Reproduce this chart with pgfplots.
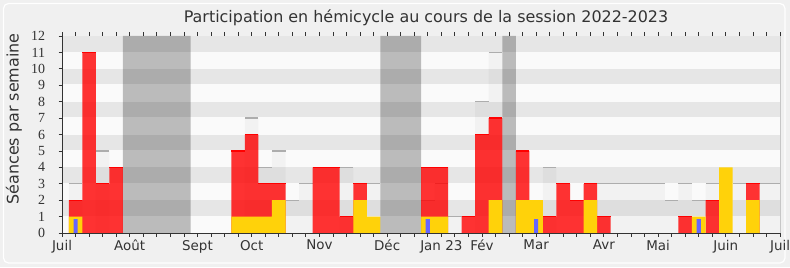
\documentclass[border=0pt]{standalone}
\usepackage{fontspec}
\setmainfont{DejaVu Sans}
\newfontfamily\serifnum{Liberation Serif}
\usepackage{pgfplots}
\usepackage{pgfplotstable}
\pgfplotsset{compat=1.18}
\definecolor{pagebg}{HTML}{F0F0F0}
\definecolor{stripeA}{HTML}{E6E6E6}
\definecolor{stripeB}{HTML}{FAFAFA}
\definecolor{barred}{HTML}{FF0000}
\definecolor{baryel}{HTML}{FFD20A}
\definecolor{barblue}{HTML}{6666FF}
\definecolor{txt}{HTML}{333333}

\pgfplotstableread{
x y
5 12
6 12
7 12
8 12
9 12
24 12
25 12
26 12
33 12
}\vactab

\pgfplotstableread{
x y
1 2
2 11
3 3
4 4
13 5
14 6
15 3
16 3
19 4
20 4
21 1
22 3
27 4
28 4
30 1
31 6
32 7
34 5
36 1
37 3
38 2
39 3
40 1
46 1
48 2
51 3
}\redtab

\pgfplotstableread{
x y
1 1
13 1
14 1
15 1
16 2
22 2
23 1
27 1
28 1
32 2
34 2
35 2
39 2
47 1
49 4
51 2
}\yeltab

\pgfplotstableread{
x y
1 0.85
27 0.85
35 0.85
47 0.85
}\bluetab

\pgfplotstableread{
x y
1 3
3 5
14 7
15 4
16 5
17 2
18 3
21 4
23 3
27 2
28 3
29 1
31 8
32 11
36 4
40 3
41 3
42 3
43 3
44 3
45 2
46 3
47 2
48 3
50 3
52 3
53 3
}\maxtab

\begin{document}
\begin{tikzpicture}[x=1bp,y=1bp]
\fill[pagebg] (0,0) rectangle (790,267);
\draw[white, line width=1.2bp, rounded corners=5bp] (3.5,4) rectangle (785,263.5);
\begin{axis}[
  at={(62bp,34bp)}, anchor=south west,
  width=718bp, height=197bp, scale only axis,
  xmin=0, xmax=53, ymin=0, ymax=12,
  axis background/.style={fill=stripeB},
  axis line style={draw=none},
  xtick={0,...,53}, xticklabels={},
  extra x ticks={0,5,10,14,19,24,28,31,35,40,44,49,53},
  extra x tick labels={Juil,Août,Sept,Oct,Nov,Déc,Jan 23,Fév,Mar,Avr,Mai,Juin,Juil},
  xticklabel style={font=\fontsize{13.5}{14}\selectfont, text=txt},
  ytick={0,...,12},
  yticklabel style={font=\serifnum\fontsize{14}{14}\selectfont, text=txt, xshift=-10bp},
  /pgf/number format/assume math mode=true,
  tick align=outside,
  major tick length=3.5bp,
  tick style={draw=txt, line width=0.8bp},
  xtick pos=both, ytick pos=left,
  grid=none,
]
% background stripes
\fill[stripeA] (axis cs:0,1.05) rectangle (axis cs:53,2);
\fill[stripeA] (axis cs:0,3.05) rectangle (axis cs:53,4);
\fill[stripeA] (axis cs:0,5.05) rectangle (axis cs:53,6);
\fill[stripeA] (axis cs:0,7.05) rectangle (axis cs:53,8);
\fill[stripeA] (axis cs:0,9.05) rectangle (axis cs:53,10);
\fill[stripeA] (axis cs:0,11.05) rectangle (axis cs:53,12);
% max boxes
\addplot[ybar, bar width=1, bar shift=0pt, fill=black, fill opacity=0.03, draw=none] table[x=x,y=y] {\maxtab};
\addplot[draw=none, mark=none, error bars/.cd, x dir=both, x fixed=0.5, error mark=none, error bar style={draw=black!32, line width=1.2bp, solid}] table[x=x,y=y] {\maxtab};
% red bars
\addplot[ybar, bar width=1, bar shift=0pt, fill=barred, fill opacity=0.8, draw=none] table[x=x,y=y] {\redtab};
\addplot[draw=none, mark=none, error bars/.cd, x dir=both, x fixed=0.5, error mark=none, error bar style={draw=barred, line width=1.2bp, solid}] table[x=x,y=y] {\redtab};
% yellow
\addplot[ybar, bar width=1, bar shift=0pt, fill=baryel, draw=none] table[x=x,y=y] {\yeltab};
% blue
\addplot[ybar, bar width=0.3, bar shift=0pt, fill=barblue, draw=none] table[x=x,y=y] {\bluetab};
% vacations
\addplot[ybar, bar width=1, bar shift=0pt, fill=black, fill opacity=0.25, draw=none] table[x=x,y=y] {\vactab};
\end{axis}
\draw[black!22, line width=1bp] (780,34) -- (780,231);
\draw[txt, line width=1bp] (62,231) -- (62,34) -- (780,34);
\node[font=\fontsize{16}{16}\selectfont, text=txt] at (426,249) {Participation en hémicycle au cours de la session 2022-2023};
\node[rotate=90, font=\fontsize{16}{16}\selectfont, text=txt] at (14,148) {Séances par semaine};
\pgfresetboundingbox
\useasboundingbox (0,0) rectangle (790,267);
\end{tikzpicture}
\end{document}
